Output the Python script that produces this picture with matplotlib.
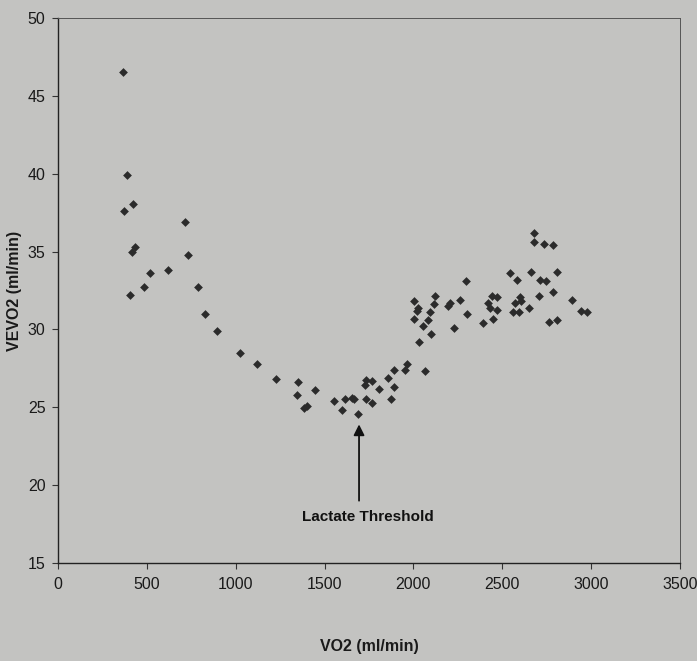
import matplotlib
matplotlib.use("Agg")
import matplotlib.pyplot as plt

vo2 = [367, 373, 390, 405, 414, 420, 433, 486, 516, 617, 715, 733, 788, 825, 893,
       1022, 1118, 1225, 1343, 1349, 1384, 1403, 1446, 1555, 1600, 1617, 1654, 1666,
       1690, 1729, 1731, 1733, 1769, 1769, 1806, 1855, 1872, 1889, 1889, 1951, 1962,
       2001, 2005, 2018, 2028, 2031, 2056, 2065, 2080, 2091, 2099, 2118, 2121, 2196,
       2206, 2228, 2262, 2296, 2303, 2390, 2421, 2431, 2444, 2446, 2472, 2472, 2541,
       2562, 2572, 2583, 2594, 2600, 2604, 2652, 2660, 2678, 2678, 2708, 2712, 2733,
       2744, 2765, 2784, 2787, 2808, 2810, 2892, 2941, 2979]
vevo2 = [46.5, 37.6, 39.9, 32.2, 35.0, 38.05, 35.27, 32.7, 33.6, 33.8, 36.9, 34.8, 32.7, 31.0, 29.9,
         28.5, 27.8, 26.8, 25.8, 26.6, 24.95, 25.1, 26.1, 25.4, 24.8, 25.5, 25.6, 25.5,
         24.55, 26.4, 25.5, 26.75, 25.3, 26.7, 26.2, 26.9, 25.5, 26.3, 27.4, 27.4, 27.8,
         31.8, 30.7, 31.2, 31.4, 29.2, 30.2, 27.3, 30.6, 31.1, 29.7, 31.6, 32.15, 31.5,
         31.7, 30.1, 31.9, 33.1, 31.0, 30.4, 31.7, 31.4, 32.15, 30.65, 32.1, 31.25, 33.6,
         31.1, 31.7, 33.2, 31.1, 32.1, 31.8, 31.4, 33.7, 36.2, 35.6, 32.15, 33.2, 35.5,
         33.1, 30.5, 32.4, 35.4, 33.7, 30.6, 31.9, 31.2, 31.1]

x_ticks = [0, 500, 1000, 1500, 2000, 2500, 3000, 3500]
y_ticks = [15, 20, 25, 30, 35, 40, 45, 50]
annot_text = "Lactate Threshold"
annot_xy = (1694, 23.9)
annot_text_xy = (1694, 19.0)

plt.rcParams['font.family'] = ['Liberation Sans', 'DejaVu Sans']

bg = '#c3c3c1'
fig = plt.figure(figsize=(6.97, 6.61), dpi=100, facecolor=bg)
ax = fig.add_axes([0.0832, 0.1483, 0.8924, 0.8245])
ax.set_facecolor(bg)

ax.scatter(vo2, vevo2, marker='D', s=20, color='#2b2b2b', linewidths=0, zorder=3)

ax.set_xlim(0, 3500)
ax.set_ylim(15, 50)
ax.set_xticks(x_ticks)
ax.set_yticks(y_ticks)
ax.tick_params(axis='both', direction='out', length=4, width=0.8, color='#333333',
               labelsize=11.5, labelcolor='#1a1a1a')
ax.tick_params(axis='x', pad=6)
ax.tick_params(axis='y', pad=5)
for s in ['left', 'bottom']:
    ax.spines[s].set_color('#222222')
    ax.spines[s].set_linewidth(1.0)
for s in ['top', 'right']:
    ax.spines[s].set_color('#555555')
    ax.spines[s].set_linewidth(0.7)

ax.set_xlabel("VO2 (ml/min)", fontsize=11.5, fontweight='bold', color='#1a1a1a', labelpad=34)
ax.set_ylabel("VEVO2 (ml/min)", fontsize=11.5, fontweight='bold', color='#1a1a1a', labelpad=4)

ax.annotate("", xy=annot_xy, xytext=annot_text_xy,
            arrowprops=dict(arrowstyle='-|>', color='#111111', lw=1.3,
                            mutation_scale=16, shrinkA=0, shrinkB=0))
ax.text(annot_xy[0] + 50, annot_text_xy[1] - 1.05, annot_text, ha='center', va='center',
        fontsize=11, fontweight='bold', color='#111111')

fig.savefig("out.png", dpi=100, facecolor=bg)
